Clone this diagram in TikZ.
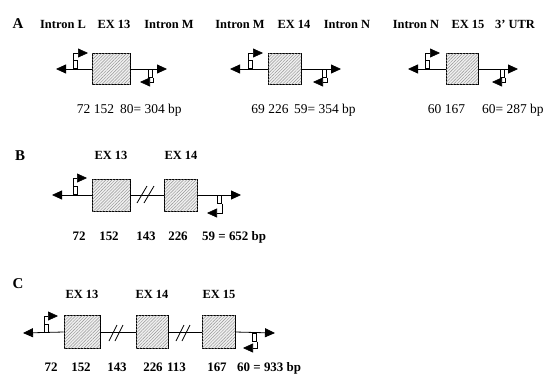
\documentclass[tikz,border=0pt]{standalone}
\usepackage{fontspec}
\setmainfont{Liberation Serif}
\usetikzlibrary{arrows.meta, patterns.meta}

\tikzset{
  exon/.style={draw, line width=0.8bp, fill=gray!12, inner sep=0pt, minimum height=31bp,
    postaction={pattern={Lines[angle=45,distance=2.2bp,line width=0.45bp]}, pattern color=gray!85}},
  pbox/.style={draw, fill=white, line width=0.6bp, minimum width=4bp, minimum height=8bp, inner sep=0pt},
  dna/.style={line width=0.8bp, -{Triangle[length=10bp,width=9bp]}},
  primer/.style={line width=0.6bp, -{Triangle[length=10bp,width=9bp]}},
  link/.style={line width=0.8bp},
  brk/.style={line width=0.8bp},
  hd/.style={font=\fontsize{12.5}{14}\selectfont\bfseries, anchor=base, inner sep=0pt},
  num/.style={font=\fontsize{13.5}{15}\selectfont, anchor=base, inner sep=0pt},
  bnum/.style={num, font=\fontsize{13}{15}\selectfont\bfseries},
  panel/.style={font=\fontsize{15}{17}\selectfont\bfseries, anchor=base, inner sep=0pt}
}

\begin{document}
\begin{tikzpicture}[x=1bp, y=-1bp]
  \useasboundingbox (0,0) rectangle (549,376);

  % ---------- A ----------
  \node[panel] (labA) at (18,28) {A};
  \node[hd] (hIL)  at (63,28)  {Intron L};
  \node[hd] (hE13) at (114,28) {EX 13};
  \node[hd] (hIM)  at (169,28) {Intron M};
  \node[hd] (hIMb) at (240,28) {Intron M};
  \node[hd] (hE14) at (294,28) {EX 14};
  \node[hd] (hIN)  at (347,28) {Intron N};
  \node[hd] (hINb) at (416,28) {Intron N};
  \node[hd] (hE15) at (468,28) {EX 15};
  \node[hd] (hUTR) at (515,28) {3’ UTR};

  % exon 13 alone
  \coordinate (a1lt) at (56,69);
  \coordinate (a1rt) at (167,69);
  \coordinate (a1fa) at (88,53);
  \coordinate (a1ra) at (140,82);
  \node[exon, minimum width=38bp] (a1ex) at (111,69) {};
  \draw[dna] (a1ex.west) -- (a1lt);
  \draw[dna] (a1ex.east) -- (a1rt);
  \node[pbox, anchor=south west] (a1fp) at (73,69) {};
  \node[pbox, anchor=north east] (a1rp) at (153,69) {};
  \draw[primer] (a1fp.north west) |- (a1fa);
  \draw[primer] (a1rp.south east) |- (a1ra);

  % exon 14 alone
  \coordinate (a2lt) at (230,69);
  \coordinate (a2rt) at (341,69);
  \coordinate (a2fa) at (263,53);
  \coordinate (a2ra) at (313,82);
  \node[exon, minimum width=33bp] (a2ex) at (284.5,69) {};
  \draw[dna] (a2ex.west) -- (a2lt);
  \draw[dna] (a2ex.east) -- (a2rt);
  \node[pbox, anchor=south west] (a2fp) at (248,69) {};
  \node[pbox, anchor=north east] (a2rp) at (327,69) {};
  \draw[primer] (a2fp.north west) |- (a2fa);
  \draw[primer] (a2rp.south east) |- (a2ra);

  % exon 15 alone
  \coordinate (a3lt) at (408,69);
  \coordinate (a3rt) at (518,69);
  \coordinate (a3fa) at (440,53);
  \coordinate (a3ra) at (492,82);
  \node[exon, minimum width=32bp] (a3ex) at (462,69) {};
  \draw[dna] (a3ex.west) -- (a3lt);
  \draw[dna] (a3ex.east) -- (a3rt);
  \node[pbox, anchor=south west] (a3fp) at (425,69) {};
  \node[pbox, anchor=north east] (a3rp) at (505,69) {};
  \draw[primer] (a3fp.north west) |- (a3fa);
  \draw[primer] (a3rp.south east) |- (a3ra);

  \node[num] (a1n1) at (83.5,113) {72};
  \node[num] (a1n2) at (104,113) {152};
  \node[num, anchor=base west] (a1n3) at (120,113) {80= 304 bp};
  \node[num] (a2n1) at (258,113) {69};
  \node[num] (a2n2) at (278.5,113) {226};
  \node[num, anchor=base west] (a2n3) at (294,113) {59= 354 bp};
  \node[num] (a3n1) at (434.5,113) {60};
  \node[num] (a3n2) at (455,113) {167};
  \node[num, anchor=base west] (a3n3) at (482,113) {60= 287 bp};

  % ---------- B ----------
  \node[panel] (labB) at (20,160) {B};
  \node[hd] (bh1) at (111,159) {EX 13};
  \node[hd] (bh2) at (181,159) {EX 14};

  \coordinate (blt) at (52,195);
  \coordinate (brt) at (241,195);
  \coordinate (bfa) at (87,178);
  \coordinate (bra) at (207,213);
  \node[exon, minimum width=38bp, minimum height=32bp] (b1ex) at (111,195) {};
  \node[exon, minimum width=33bp, minimum height=32bp] (b2ex) at (181,195) {};
  \draw[dna] (b1ex.west) -- (blt);
  \draw[link] (b1ex.east) -- (b2ex.west);
  \draw[dna] (b2ex.east) -- (brt);
  \draw[brk] (137,203) -- (147,186);
  \draw[brk] (144,203) -- (154,186);
  \node[pbox, anchor=south west] (bfp) at (73,195) {};
  \node[pbox, anchor=north east] (brp) at (222,195) {};
  \draw[primer] (bfp.north west) |- (bfa);
  \draw[primer] (brp.south east) |- (bra);

  \node[bnum] (bn1) at (79,240.5) {72};
  \node[bnum] (bn2) at (109,240.5) {152};
  \node[bnum] (bn3) at (146,240.5) {143};
  \node[bnum] (bn4) at (178,240.5) {226};
  \node[bnum, anchor=base west] (bn5) at (202,240.5) {59 = 652 bp};

  % ---------- C ----------
  \node[panel] (labC) at (18,288) {C};
  \node[hd] (ch1) at (82,298) {EX 13};
  \node[hd] (ch2) at (152,298) {EX 14};
  \node[hd] (ch3) at (219,298) {EX 15};

  \coordinate (clt) at (23,333);
  \coordinate (crt) at (275,333);
  \coordinate (cfa) at (58,316);
  \coordinate (cra) at (243,348);
  \node[exon, minimum width=36bp, minimum height=33bp] (c1ex) at (82,332) {};
  \node[exon, minimum width=32bp, minimum height=33bp] (c2ex) at (152,332) {};
  \node[exon, minimum width=33bp, minimum height=33bp] (c3ex) at (218.5,332) {};
  \draw[dna] (c1ex.west) -- (clt);
  \draw[link] (c1ex.east) -- (c2ex.west);
  \draw[link] (c2ex.east) -- (c3ex.west);
  \draw[dna] (c3ex.east) -- (crt);
  \draw[brk] (109,341) -- (117,325);
  \draw[brk] (115,341) -- (123,325);
  \draw[brk] (176,341) -- (184,325);
  \draw[brk] (182,341) -- (190,325);
  \node[pbox, anchor=south west] (cfp) at (44,333) {};
  \node[pbox, anchor=north east] (crp) at (257,333) {};
  \draw[primer] (cfp.north west) |- (cfa);
  \draw[primer] (crp.south east) |- (cra);

  \node[bnum] (cn1) at (51,371.5) {72};
  \node[bnum] (cn2) at (81,371.5) {152};
  \node[bnum] (cn3) at (117,371.5) {143};
  \node[bnum] (cn4) at (153,371.5) {226};
  \node[bnum] (cn5) at (176.5,371.5) {113};
  \node[bnum] (cn6) at (217,371.5) {167};
  \node[bnum, anchor=base west] (cn7) at (237,371.5) {60 = 933 bp};
\end{tikzpicture}
\end{document}
